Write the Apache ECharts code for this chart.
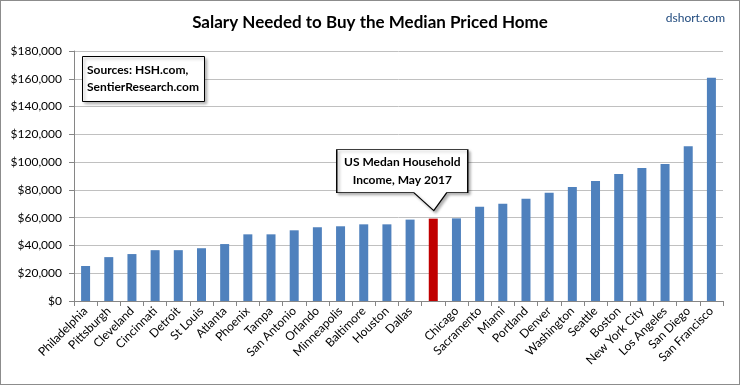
<!DOCTYPE html>
<html>
<head>
<meta charset="utf-8">
<script src="https://cdn.jsdelivr.net/npm/echarts@6/dist/echarts.min.js"></script>
<style>
  html, body { margin: 0; padding: 0; background: #fff; }
  #chart { width: 740px; height: 385px; box-sizing: border-box; border: 1px solid #8c8c8c; }
</style>
</head>
<body>
<div id="chart"></div>
<script>
// ---- data ----
const titleText = 'Salary Needed to Buy the Median Priced Home';
const creditText = 'dshort.com';
const sourcesText = ['Sources: HSH.com,', 'SentierResearch.com'];
const calloutText = ['US Medan Household', 'Income, May 2017'];
const categories = ['Philadelphia', 'Pittsburgh', 'Cleveland', 'Cincinnati', 'Detroit', 'St Louis',
  'Atlanta', 'Phoenix', 'Tampa', 'San Antonio', 'Orlando', 'Minneapolis', 'Baltimore', 'Houston',
  'Dallas', '', 'Chicago', 'Sacramento', 'Miami', 'Portland', 'Denver', 'Washington', 'Seattle',
  'Boston', 'New York City', 'Los Angeles', 'San Diego', 'San Francisco'];
const salaries = [25200, 31600, 33800, 36600, 36600, 38000, 41000, 48000, 48000, 50900, 53100,
  53800, 55200, 55200, 58600, 59300, 59500, 67900, 70000, 73600, 77900, 82100, 86400, 91400,
  95700, 98600, 111400, 160700];
const highlightIndex = categories.indexOf('');
const yTicks = { min: 0, max: 180000, interval: 20000 };

const FONT = 'Lato';
const chart = echarts.init(document.getElementById('chart'));

const barData = salaries.map((v, i) => i === highlightIndex
  ? { value: v, itemStyle: { color: '#c00000' } }
  : v);

chart.setOption({
  animation: false,
  textStyle: { fontFamily: FONT },
  title: [
    { text: titleText, left: 'center', top: 8,
      textStyle: { fontFamily: FONT, fontSize: 17, fontWeight: 'bold', color: '#000' } },
    { text: creditText, right: 9, top: 6,
      textStyle: { fontFamily: FONT, fontSize: 12, fontWeight: 'normal', color: '#1f497d' } },
    { text: sourcesText.join('\n'), left: 81, top: 55,
      padding: [6, 6, 6, 5], borderColor: '#000', borderWidth: 1, backgroundColor: '#fff',
      shadowColor: 'rgba(0,0,0,0.3)', shadowBlur: 3, shadowOffsetX: 2, shadowOffsetY: 2,
      textStyle: { fontFamily: FONT, fontSize: 12, fontWeight: 'bold', color: '#000', lineHeight: 17 } }
  ],
  grid: { left: 73, right: 16, top: 50, bottom: 83 },
  xAxis: {
    type: 'category',
    data: categories,
    axisLine: { lineStyle: { color: '#868686' } },
    axisTick: { show: true, interval: 0, length: 5, lineStyle: { color: '#868686' } },
    axisLabel: { interval: 0, rotate: 45, margin: 8, fontSize: 12, color: '#000', fontFamily: FONT }
  },
  yAxis: {
    type: 'value',
    min: yTicks.min, max: yTicks.max, interval: yTicks.interval,
    axisLine: { show: true, lineStyle: { color: '#868686' } },
    axisTick: { show: true, length: 5, lineStyle: { color: '#868686' } },
    splitLine: { lineStyle: { color: '#c0c0c0' } },
    axisLabel: { margin: 12, fontSize: 12, color: '#000', fontFamily: FONT,
      formatter: v => '$' + v.toLocaleString('en-US') }
  },
  series: [{
    type: 'bar',
    data: barData,
    barWidth: 9,
    itemStyle: { color: '#4f81bd' },
    markPoint: {
      silent: true,
      data: [{
        coord: [highlightIndex, salaries[highlightIndex]],
        symbol: 'path://M0,0 L131,0 L131,43 L110,43 L97,61 L77,43 L0,43 Z',
        symbolSize: [131, 61],
        symbolKeepAspect: false,
        symbolOffset: [-31, -38.5],
        itemStyle: { color: '#fff', borderColor: '#000', borderWidth: 1,
          shadowColor: 'rgba(0,0,0,0.3)', shadowBlur: 3, shadowOffsetX: 2, shadowOffsetY: 2 },
        label: { show: true, position: 'inside', offset: [0, -9],
          formatter: calloutText.join('\n'),
          fontFamily: FONT, fontSize: 12, fontWeight: 'bold', color: '#000', lineHeight: 18, align: 'center' }
      }]
    }
  }]
});
</script>
</body>
</html>
